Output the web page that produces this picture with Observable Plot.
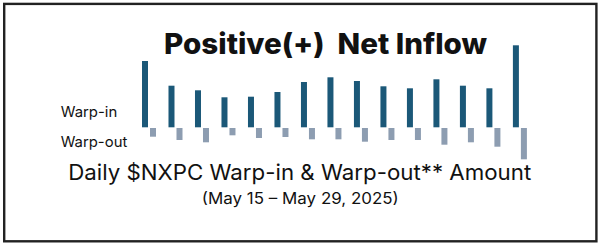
<!DOCTYPE html>
<html>
<head>
<meta charset="utf-8">
<script src="https://cdn.jsdelivr.net/npm/d3@7"></script>
<script src="https://cdn.jsdelivr.net/npm/@observablehq/plot@0.6"></script>
<style>
  html, body { margin: 0; padding: 0; background: #fff; }
  #chart { width: 600px; height: 243px; position: relative; overflow: hidden; }
</style>
</head>
<body>
<div id="chart"></div>
<script>
// Days (May 15 – May 29, 2025)
const days = ["2025-05-15","2025-05-16","2025-05-17","2025-05-18","2025-05-19",
              "2025-05-20","2025-05-21","2025-05-22","2025-05-23","2025-05-24",
              "2025-05-25","2025-05-26","2025-05-27","2025-05-28","2025-05-29"];
// Relative daily amounts (no axis in the original)
const warpIn  = [66.3, 41.6, 37.0, 30.0, 30.6, 35.3, 45.3, 50.0, 46.3, 41.0, 39.0, 48.0, 41.6, 39.0, 82.0];
const warpOut = [9.4, 12.7, 15.0, 8.0, 10.7, 9.7, 12.0, 12.0, 14.4, 12.7, 12.7, 17.4, 15.0, 19.4, 32.0];

const titleText = "Positive(+)\u00a0\u00a0Net Inflow";
const subtitleText = "Daily $NXPC Warp-in & Warp-out** Amount";
const dateText = "(May 15 \u2013 May 29, 2025)";
const inLabel = "Warp-in";
const outLabel = "Warp-out";

const inColor = "#1b5878";
const outColor = "#8d9db1";

const rows = days.map((d, i) => ({day: d, inAmt: warpIn[i], outAmt: -warpOut[i]}));

const chart = Plot.plot({
  width: 600,
  height: 243,
  marginLeft: 142,
  marginRight: 81.1,
  marginTop: 42.3,
  marginBottom: 80.7,
  style: {background: "#fff", overflow: "visible"},
  x: {type: "band", domain: days, paddingInner: 0.7735, paddingOuter: 0, round: false, axis: null},
  y: {domain: [-35, 85], axis: null},
  marks: [
    Plot.barY(rows, {x: "day", y: "inAmt", fill: inColor}),
    Plot.barY(rows, {x: "day", y: "outAmt", fill: outColor, dx: 8, insetTop: 0.7})
  ]
});

document.getElementById("chart").appendChild(chart);

const svg = d3.select(chart);
svg.append("rect")
  .attr("x", 4.2).attr("y", 3.9).attr("width", 592.2).attr("height", 237.4)
  .attr("fill", "none").attr("stroke", "#222").attr("stroke-width", 2.4);

function addText(t, x, y, size, weight, anchor, len) {
  svg.append("text")
    .attr("x", x).attr("y", y)
    .attr("text-anchor", anchor)
    .attr("font-family", "Inter, 'Open Sans', sans-serif")
    .attr("font-size", size)
    .attr("font-weight", weight)
    .attr("fill", "#111")
    .attr("textLength", len)
    .attr("lengthAdjust", "spacingAndGlyphs")
    .text(t);
}
addText(titleText, 325.5, 54, 28.5, 800, "middle", 323);
addText(subtitleText, 299.7, 180, 21.5, 400, "middle", 463);
addText(dateText, 300.3, 204.3, 15.5, 400, "middle", 197);
addText(inLabel, 60.7, 116.7, 14.6, 400, "start", 56.6);
addText(outLabel, 60.7, 147.3, 14.6, 400, "start", 66.6);
</script>
</body>
</html>
